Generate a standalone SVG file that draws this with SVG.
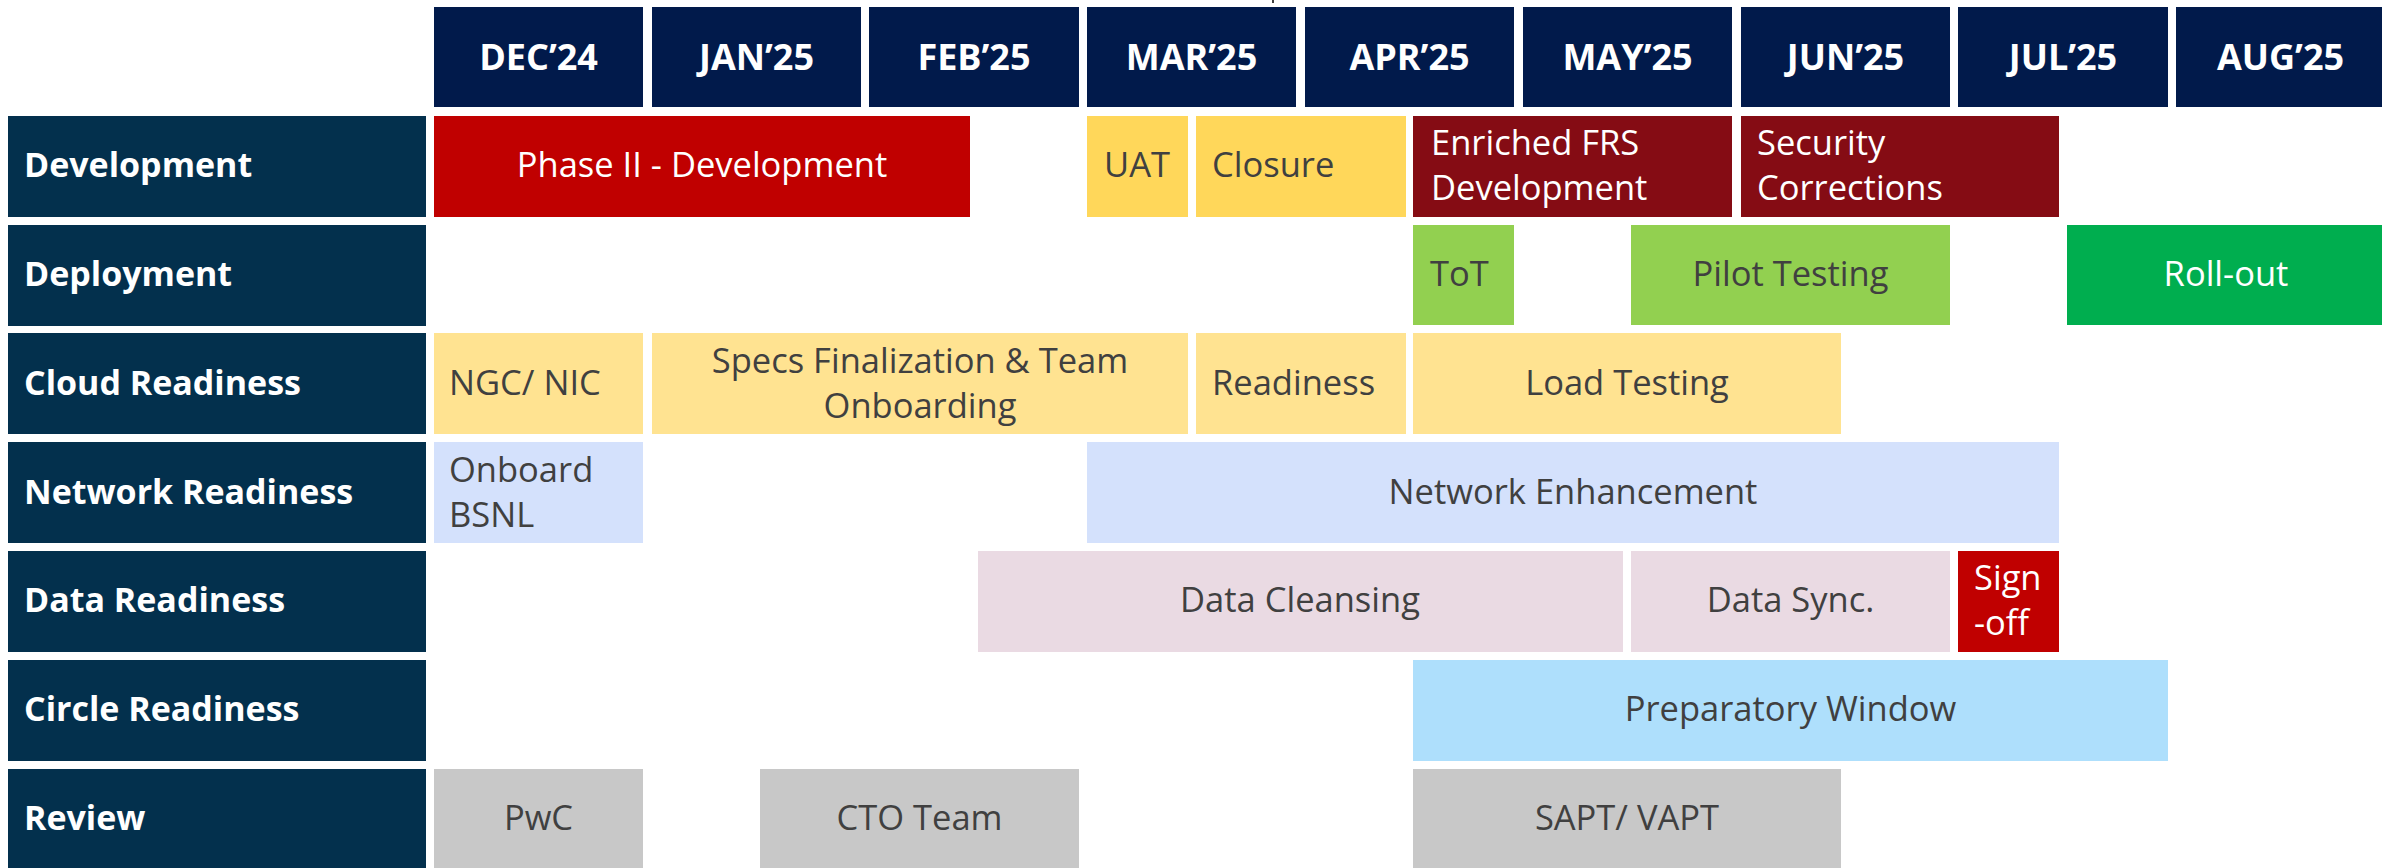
<svg xmlns="http://www.w3.org/2000/svg" width="2382" height="868" viewBox="0 0 2382 868">
  <style>
    .hdr { fill: #011A4B; }
    .lbl { fill: #03304D; }
    .hdr-t { font-family: "Open Sans", "Liberation Sans", sans-serif; font-weight: bold; font-size: 36px; fill: #FFFFFF; text-anchor: middle; }
    .lbl-t { font-family: "Open Sans", "Liberation Sans", sans-serif; font-weight: bold; font-size: 34px; fill: #FFFFFF; }
    .bar-t { font-family: "Open Sans", "Liberation Sans", sans-serif; font-size: 34.5px; fill: #404040; }
    .bar-w { font-family: "Open Sans", "Liberation Sans", sans-serif; font-size: 34.5px; fill: #FFFFFF; }
    .mid { text-anchor: middle; }
    .red { fill: #C00000; }
    .maroon { fill: #850C14; }
    .gold { fill: #FFD75A; }
    .sand { fill: #FFE391; }
    .lime { fill: #92D050; }
    .green { fill: #00AE4F; }
    .sky { fill: #D4E1FC; }
    .mauve { fill: #EADAE3; }
    .cyan { fill: #AEDFFC; }
    .grey { fill: #C8C8C8; }
  </style>

  <rect width="2382" height="868" fill="#FFFFFF"/>
  <line x1="1273" y1="0" x2="1273" y2="3" stroke="#404040" stroke-width="2"/>

  <!-- month header -->
  <g id="months">
    <g id="m-dec"><rect class="hdr" x="434" y="7" width="209" height="100"/><text class="hdr-t" x="538.5" y="70">DEC’24</text></g>
    <g id="m-jan"><rect class="hdr" x="652" y="7" width="209" height="100"/><text class="hdr-t" x="756.5" y="70">JAN’25</text></g>
    <g id="m-feb"><rect class="hdr" x="869" y="7" width="210" height="100"/><text class="hdr-t" x="974" y="70">FEB’25</text></g>
    <g id="m-mar"><rect class="hdr" x="1087" y="7" width="209" height="100"/><text class="hdr-t" x="1191.5" y="70">MAR’25</text></g>
    <g id="m-apr"><rect class="hdr" x="1305" y="7" width="209" height="100"/><text class="hdr-t" x="1409.5" y="70">APR’25</text></g>
    <g id="m-may"><rect class="hdr" x="1523" y="7" width="209" height="100"/><text class="hdr-t" x="1627.5" y="70">MAY’25</text></g>
    <g id="m-jun"><rect class="hdr" x="1741" y="7" width="209" height="100"/><text class="hdr-t" x="1845.5" y="70">JUN’25</text></g>
    <g id="m-jul"><rect class="hdr" x="1958" y="7" width="210" height="100"/><text class="hdr-t" x="2063" y="70">JUL’25</text></g>
    <g id="m-aug"><rect class="hdr" x="2176" y="7" width="209" height="100"/><text class="hdr-t" x="2280.5" y="70">AUG’25</text></g>
  </g>

  <!-- workstream labels -->
  <g id="lanes">
    <g id="lane-development"><rect class="lbl" x="8" y="116" width="418" height="101"/><text class="lbl-t" x="24" y="177">Development</text></g>
    <g id="lane-deployment"><rect class="lbl" x="8" y="225" width="418" height="101"/><text class="lbl-t" x="24" y="286">Deployment</text></g>
    <g id="lane-cloud"><rect class="lbl" x="8" y="333" width="418" height="101"/><text class="lbl-t" x="24" y="395">Cloud Readiness</text></g>
    <g id="lane-network"><rect class="lbl" x="8" y="442" width="418" height="101"/><text class="lbl-t" x="24" y="504">Network Readiness</text></g>
    <g id="lane-data"><rect class="lbl" x="8" y="551" width="418" height="101"/><text class="lbl-t" x="24" y="612">Data Readiness</text></g>
    <g id="lane-circle"><rect class="lbl" x="8" y="660" width="418" height="101"/><text class="lbl-t" x="24" y="721">Circle Readiness</text></g>
    <g id="lane-review"><rect class="lbl" x="8" y="769" width="418" height="101"/><text class="lbl-t" x="24" y="830">Review</text></g>
  </g>

  <!-- Development -->
  <g id="phase2-dev"><rect class="red" x="434" y="116" width="536" height="101"/><text class="bar-w mid" x="702" y="177">Phase II - Development</text></g>
  <g id="uat"><rect class="gold" x="1087" y="116" width="101" height="101"/><text class="bar-t mid" x="1137" y="177">UAT</text></g>
  <g id="closure"><rect class="gold" x="1196" y="116" width="210" height="101"/><text class="bar-t" x="1212" y="177">Closure</text></g>
  <g id="enriched-frs"><rect class="maroon" x="1413" y="116" width="319" height="101"/><text class="bar-w" x="1431" y="155">Enriched FRS</text><text class="bar-w" x="1431" y="200">Development</text></g>
  <g id="security-corr"><rect class="maroon" x="1741" y="116" width="318" height="101"/><text class="bar-w" x="1757" y="155">Security</text><text class="bar-w" x="1757" y="200">Corrections</text></g>

  <!-- Deployment -->
  <g id="tot"><rect class="lime" x="1413" y="225" width="101" height="100"/><text class="bar-t" x="1430" y="286">ToT</text></g>
  <g id="pilot"><rect class="lime" x="1631" y="225" width="319" height="100"/><text class="bar-t mid" x="1790.5" y="286">Pilot Testing</text></g>
  <g id="rollout"><rect class="green" x="2067" y="225" width="318" height="100"/><text class="bar-w mid" x="2226" y="286">Roll-out</text></g>

  <!-- Cloud Readiness -->
  <g id="ngc-nic"><rect class="sand" x="434" y="333" width="209" height="101"/><text class="bar-t" x="449" y="395">NGC/ NIC</text></g>
  <g id="specs"><rect class="sand" x="652" y="333" width="536" height="101"/><text class="bar-t mid" x="920" y="373">Specs Finalization &amp; Team</text><text class="bar-t mid" x="920" y="418">Onboarding</text></g>
  <g id="cloud-ready"><rect class="sand" x="1196" y="333" width="210" height="101"/><text class="bar-t" x="1212" y="395">Readiness</text></g>
  <g id="load-test"><rect class="sand" x="1413" y="333" width="428" height="101"/><text class="bar-t mid" x="1627" y="395">Load Testing</text></g>

  <!-- Network Readiness -->
  <g id="onboard-bsnl"><rect class="sky" x="434" y="442" width="209" height="101"/><text class="bar-t" x="449" y="482">Onboard</text><text class="bar-t" x="449" y="527">BSNL</text></g>
  <g id="net-enh"><rect class="sky" x="1087" y="442" width="972" height="101"/><text class="bar-t mid" x="1573" y="504">Network Enhancement</text></g>

  <!-- Data Readiness -->
  <g id="cleansing"><rect class="mauve" x="978" y="551" width="645" height="101"/><text class="bar-t mid" x="1300" y="612">Data Cleansing</text></g>
  <g id="sync"><rect class="mauve" x="1631" y="551" width="319" height="101"/><text class="bar-t mid" x="1790.5" y="612">Data Sync.</text></g>
  <g id="signoff"><rect class="red" x="1958" y="551" width="101" height="101"/><text class="bar-w" x="1974" y="590">Sign</text><text class="bar-w" x="1974" y="635">-off</text></g>

  <!-- Circle Readiness -->
  <g id="prep-window"><rect class="cyan" x="1413" y="660" width="755" height="101"/><text class="bar-t mid" x="1790.5" y="721">Preparatory Window</text></g>

  <!-- Review -->
  <g id="pwc"><rect class="grey" x="434" y="769" width="209" height="101"/><text class="bar-t mid" x="538.5" y="830">PwC</text></g>
  <g id="cto"><rect class="grey" x="760" y="769" width="319" height="101"/><text class="bar-t mid" x="919.5" y="830">CTO Team</text></g>
  <g id="sapt"><rect class="grey" x="1413" y="769" width="428" height="101"/><text class="bar-t mid" x="1627" y="830">SAPT/ VAPT</text></g>

  <g id="connectors"/>
</svg>
